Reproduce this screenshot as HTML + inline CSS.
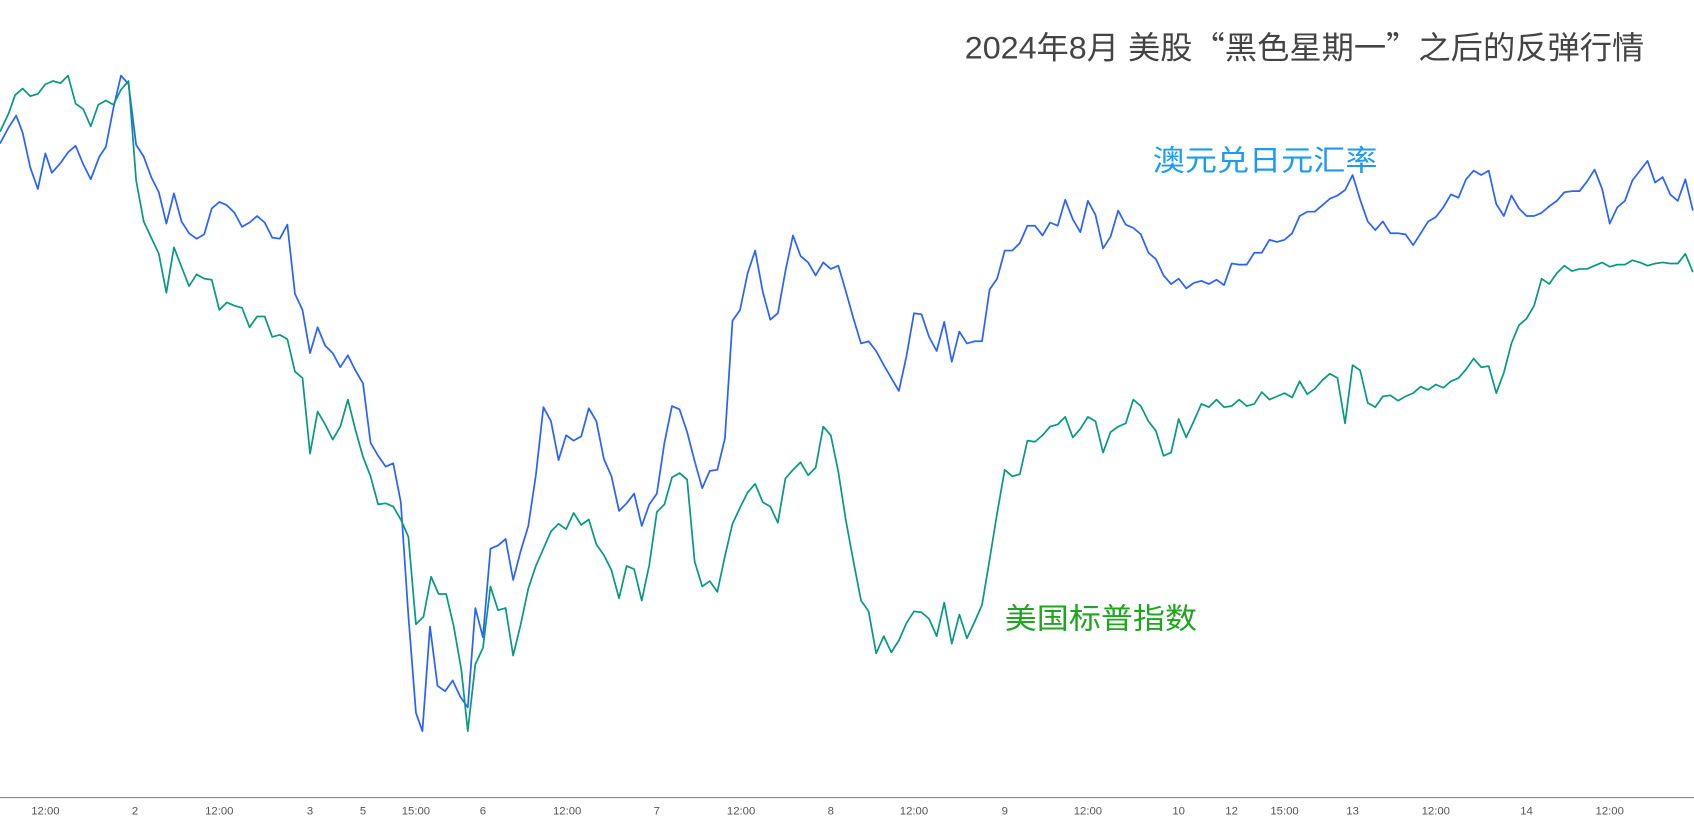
<!DOCTYPE html>
<html><head><meta charset="utf-8"><style>
html,body{margin:0;padding:0;background:#fff;}
svg{display:block;}
text{font-family:"Liberation Sans","Noto Sans CJK SC",sans-serif;}
.q{font-family:"Noto Sans CJK SC",sans-serif;}
</style></head><body>
<svg width="1694" height="823" viewBox="0 0 1568 762" preserveAspectRatio="none" xmlns="http://www.w3.org/2000/svg">
<rect width="1568" height="762" fill="#fff"/>
<text x="893" y="54" font-size="29" fill="#444" textLength="629" lengthAdjust="spacingAndGlyphs">2024年8月 美股<tspan class="q">“</tspan>黑色星期一<tspan class="q">”</tspan>之后的反弹行情</text>
<text x="1067" y="158" font-size="27" fill="#1e9bf0" textLength="208" lengthAdjust="spacingAndGlyphs">澳元兑日元汇率</text>
<text x="930" y="582" font-size="27" fill="#1fa51f" textLength="178" lengthAdjust="spacingAndGlyphs">美国标普指数</text>
<polyline fill="none" stroke="#2962ff" stroke-width="1.6" stroke-linejoin="round" points="0,133 8,118 15,107 21,123 28,155 35,175 42,142 48,160 56,151 63,141 70,135 77,152 84,166 92,145 98,136 105,100 112,70 119,78 126,134 133,145 140,164 147,178 154,207 161,179 168,205 175,216 182,221 189,217 196,193 203,187 210,190 217,197 224,210 231,206 238,200 245,206 252,220 259,221 266,208 273,272 280,287 287,327 294,303 301,320 308,327 315,340 322,329 329,343 336,355 343,410 350,422 357,432 364,429 371,465 378,570 385,660 391,677 398,580 405,635 412,640 419,630 426,645 433,655 440,563 447,590 454,508 461,505 468,499 475,537 482,510 489,487 496,440 503,377 510,390 517,426 524,403 531,408 538,404 545,378 552,390 559,425 566,441 573,473 580,466 587,457 594,487 601,467 608,457 615,410 622,376 629,379 636,400 643,427 650,452 657,436 664,435 671,406 678,297 685,287 692,253 699,232 706,270 713,296 720,290 727,251 734,218 741,237 748,243 755,255 762,243 769,249 776,246 783,270 790,295 797,318 804,316 811,325 818,338 825,350 832,362 839,330 846,290 853,291 860,312 867,325 874,298 881,335 888,307 895,318 902,316 909,316 916,268 923,258 930,232 937,232 944,225 951,209 958,209 965,218 972,206 979,209 986,185 993,203 1000,215 1007,186 1014,199 1021,230 1028,219 1035,195 1042,208 1049,211 1056,217 1063,234 1070,240 1077,255 1084,263 1091,258 1098,267 1105,262 1112,260 1119,263 1126,259 1133,264 1140,244 1147,245 1154,245 1161,234 1168,234 1175,222 1182,224 1189,222 1196,216 1203,200 1210,196 1217,196 1224,190 1231,184 1238,181 1245,176 1252,162 1259,185 1266,205 1273,213 1280,205 1287,216 1294,216 1301,217 1308,227 1315,216 1322,205 1329,201 1336,192 1343,180 1350,183 1357,166 1364,158 1371,162 1378,158 1385,189 1392,200 1399,181 1406,193 1413,200 1420,200 1427,197 1434,191 1441,186 1448,178 1455,177 1462,177 1469,168 1476,157 1483,175 1490,207 1497,192 1504,186 1511,167 1518,158 1525,149 1532,169 1539,164 1546,180 1553,186 1560,166 1567,195"/>
<polyline fill="none" stroke="#089981" stroke-width="1.6" stroke-linejoin="round" points="0,122 8,105 14,88 21,82 28,89 35,87 42,78 49,75 56,77 63,70 70,96 77,101 84,117 91,97 98,93 105,97 112,83 119,75 126,167 133,205 140,220 147,235 154,271 161,229 168,247 175,265 182,254 189,258 196,259 203,287 210,280 217,283 224,285 231,303 238,293 245,293 252,312 259,310 266,314 273,344 280,350 287,420 294,381 301,393 308,407 315,395 322,370 329,398 336,423 343,441 350,467 357,466 364,469 371,481 378,497 385,578 392,571 399,534 406,550 413,550 420,580 427,620 433,677 440,615 447,600 454,543 461,565 468,563 475,607 482,578 489,545 496,524 503,508 510,492 517,485 524,490 531,475 538,486 545,481 552,504 559,514 566,528 573,554 580,524 587,527 594,556 601,523 608,474 615,467 622,442 629,438 636,444 643,520 650,543 657,538 664,548 671,515 678,485 685,470 692,456 699,448 706,465 713,469 720,484 727,443 734,435 741,428 748,440 755,433 762,395 769,403 776,437 783,482 790,520 797,556 804,566 811,605 818,589 825,604 832,593 839,577 846,566 853,567 860,573 867,589 874,558 881,596 888,569 895,591 902,576 909,560 916,518 923,475 930,435 937,441 944,439 951,408 958,409 965,403 972,395 979,393 986,386 993,405 1000,397 1007,386 1014,390 1021,419 1028,400 1035,395 1042,392 1049,370 1056,376 1063,390 1070,399 1077,422 1084,419 1091,388 1098,405 1105,390 1112,374 1119,377 1126,370 1133,377 1140,376 1147,370 1154,376 1161,374 1168,363 1175,370 1182,367 1189,364 1196,368 1203,353 1210,365 1217,360 1224,352 1231,346 1238,350 1245,392 1252,338 1259,343 1266,373 1273,377 1280,367 1287,366 1294,371 1301,367 1308,364 1315,358 1322,361 1329,356 1336,359 1343,353 1350,350 1357,342 1364,332 1371,340 1378,339 1385,364 1392,345 1399,318 1406,301 1413,295 1420,283 1427,258 1434,263 1441,253 1448,246 1455,251 1462,249 1469,249 1476,246 1483,243 1490,247 1497,245 1504,245 1511,241 1518,243 1525,246 1532,244 1539,243 1546,244 1553,244 1560,235 1567,252"/>
<line x1="0" y1="738.5" x2="1568" y2="738.5" stroke="#777" stroke-width="1"/>
<g font-size="10.5" fill="#555" text-anchor="middle">
<text x="42" y="754">12:00</text><text x="125" y="754">2</text><text x="203" y="754">12:00</text>
<text x="287" y="754">3</text><text x="336" y="754">5</text><text x="385" y="754">15:00</text>
<text x="447" y="754">6</text><text x="525" y="754">12:00</text><text x="608" y="754">7</text>
<text x="686" y="754">12:00</text><text x="769" y="754">8</text><text x="846" y="754">12:00</text>
<text x="930" y="754">9</text><text x="1007" y="754">12:00</text><text x="1091" y="754">10</text>
<text x="1140" y="754">12</text><text x="1189" y="754">15:00</text><text x="1252" y="754">13</text>
<text x="1329" y="754">12:00</text><text x="1413" y="754">14</text><text x="1490" y="754">12:00</text>
</g>
</svg>
</body></html>
